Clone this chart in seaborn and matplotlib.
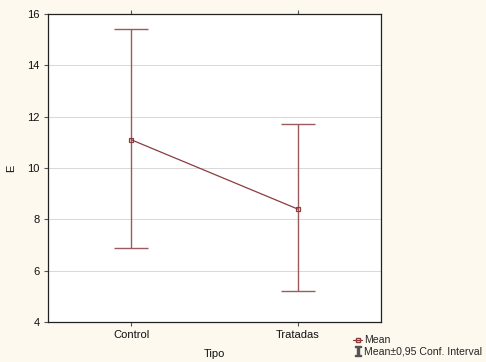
import numpy as np
import pandas as pd
import matplotlib
matplotlib.use("Agg")
import matplotlib.pyplot as plt
import seaborn as sns
from matplotlib.lines import Line2D

# datos
tipos = ["Control", "Tratadas"]
medias = [11.1, 8.4]
ic_inf = [6.9, 5.2]
ic_sup = [15.4, 11.7]

sns.set_style("white")
plt.rcParams["font.family"] = ["Liberation Sans", "DejaVu Sans"]

df = pd.DataFrame({"Tipo": tipos, "E": medias})
color = "#8c3b3f"
bg = "#fdf9ef"

fig = plt.figure(figsize=(4.86, 3.62), dpi=100, facecolor=bg)
ax = fig.add_axes([48 / 486, 1 - 322 / 362, 333 / 486, 308 / 362])
ax.set_facecolor("white")

sns.pointplot(data=df, x="Tipo", y="E", errorbar=None, color=color,
              markers="s", linestyles="-", ax=ax, linewidth=0.9,
              markersize=3.5, markerfacecolor="none", markeredgewidth=0.9)

err = [np.array(medias) - np.array(ic_inf), np.array(ic_sup) - np.array(medias)]
ax.errorbar(range(len(tipos)), medias, yerr=err, fmt="none", ecolor="#9c5a5e",
            elinewidth=1.0, capsize=12.5, capthick=1.0, zorder=1)

ax.set_xlim(-0.5, 1.5)
ax.set_ylim(4, 16)
ax.set_yticks(range(4, 17, 2))
ax.yaxis.grid(True, color="#d8d8d8", linewidth=0.7)
ax.set_axisbelow(True)
for s in ax.spines.values():
    s.set_color("#222222")
    s.set_linewidth(0.9)
ax.tick_params(axis="both", labelsize=8, length=3, color="#555555",
               direction="out", left=True, bottom=True, top=True, pad=3,
               labelcolor="#111111")
ax.set_xlabel("Tipo", fontsize=8, labelpad=6, color="#111111")
ax.set_ylabel("E", fontsize=8, labelpad=8, color="#111111")

handles = [
    Line2D([0], [0], color=color, marker="s", markersize=3.5,
           markerfacecolor="none", linewidth=0.9),
    Line2D([0], [0], color="#555555", marker="$\\mathtt{I}$", markersize=7,
           linestyle="none"),
]
fig.legend(handles, ["Mean", "Mean\u00b10,95 Conf. Interval"],
           loc="lower left", bbox_to_anchor=(346 / 486, -0.005),
           frameon=False, fontsize=7.6, handlelength=0.8,
           handletextpad=0.25, labelspacing=0.1, borderpad=0.2)

fig.savefig("out.png", dpi=100, facecolor=bg)
